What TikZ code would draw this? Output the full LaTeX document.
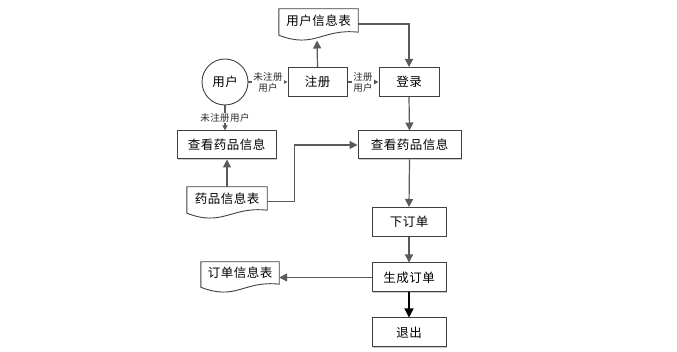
\documentclass[tikz,border=0pt]{standalone}
\usepackage{fontspec}
\setmainfont{Noto Sans CJK SC}[LetterSpace=4]
\usetikzlibrary{arrows.meta,calc,shadows}
\definecolor{ln}{HTML}{5A5A5A}
\definecolor{bd}{HTML}{404040}
\tikzset{
  box/.style={draw=bd, line width=1pt, fill=white, minimum width=#1, minimum height=29pt, inner sep=0pt,
    font=\fontsize{12.5}{15}\selectfont,
    drop shadow={shadow xshift=1pt, shadow yshift=-1pt, fill=black!20, opacity=1}},
  docnode/.style={draw=none, minimum width=#1, inner sep=0pt},
  doctext/.style={font=\fontsize{12.5}{15}\selectfont},
  docline/.style={draw=bd, line width=0.9pt, fill=white},
  conn/.style={draw=ln, line width=1.2pt, -{Triangle[width=8pt,length=8pt]}},
  sconn/.style={draw=ln, line width=1.2pt, -{Triangle[width=5pt,length=5pt]}},
  lab/.style={font=\fontsize{9.5}{11}\selectfont, fill=white, inner sep=1pt, align=center, text=black!85}
}
\newcommand\docoutline[1]{%
  \draw[docline] (#1.north west) -- (#1.north east) -- (#1.south east)
    .. controls ($(#1.south west)!0.55!(#1.south east)+(0,-4)$) and ($(#1.south west)!0.45!(#1.south east)+(0,17)$)
    .. ($(#1.south west)+(0,3)$) -- cycle;}
\begin{document}
\begin{tikzpicture}[x=1pt,y=-1pt]
\useasboundingbox (0,0) rectangle (677,352);
% nodes
\node[draw=bd, line width=0.9pt, circle, minimum size=46pt, inner sep=0pt, font=\fontsize{12.5}{15}\selectfont] (user) at (225,82) {用户};
\node[box=59pt] (zc) at (317.5,82) {注册};
\node[box=60pt] (dl) at (409,82) {登录};
\node[box=99pt, minimum height=28pt] (ck1) at (226.5,145) {查看药品信息};
\node[box=103pt, minimum height=28pt] (ck2) at (409.5,145) {查看药品信息};
\node[box=74pt] (xd) at (409,222) {下订单};
\node[box=74pt] (sc) at (409,277.5) {生成订单};
\node[box=74pt] (tc) at (409,332.5) {退出};
% documents
\node[docnode=79pt, minimum height=23pt] (ut) at (318.5,20.5) {};
\docoutline{ut}
\node[doctext] at (ut) {用户信息表};
\node[docnode=80pt, minimum height=23pt] (yt) at (227,198.5) {};
\docoutline{yt}
\node[doctext] at (yt) {药品信息表};
\node[docnode=78pt, minimum height=22pt] (dt) at (240,273) {};
\docoutline{dt}
\node[doctext] at (dt) {订单信息表};
\coordinate (utb) at (317,40.5);
% connectors
\draw[conn] (zc.north) -- (utb);
\draw[conn] ([yshift=-3.5pt]ut.east) -| (dl.north);
\draw[sconn] (user.east) -- node[lab]{未注册\\用户} (zc.west);
\draw[sconn] (zc.east) -- node[lab]{注册\\用户} (dl.west);
\draw[sconn] (user.south) -- node[lab, pos=0.5]{未注册用户} (user.south |- ck1.north);
\draw[conn] (dl.south) -- (ck2.north);
\draw[conn] (yt.north) -- (yt.north |- ck1.south);
\draw[conn] ([yshift=-3pt]yt.east) -- ++(27,0) |- (ck2.west);
\draw[conn] (ck2.south) -- (xd.north);
\draw[conn] (xd.south) -- (sc.north);
\draw[conn] (sc.west) -- (sc.west -| dt.east);
\draw[draw=black, line width=1.3pt, -{Triangle[width=9pt,length=9pt]}] (sc.south) -- (tc.north);
\end{tikzpicture}
\end{document}
